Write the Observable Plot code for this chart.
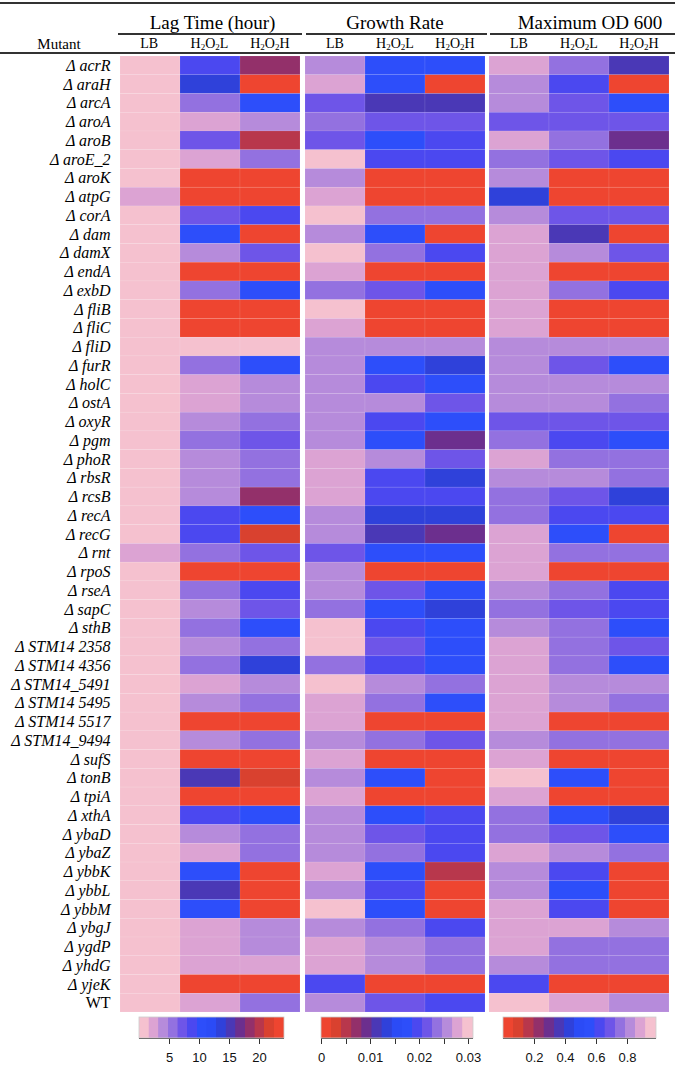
<!DOCTYPE html>
<html><head><meta charset="utf-8">
<script src="https://cdn.jsdelivr.net/npm/d3@7"></script>
<script src="https://cdn.jsdelivr.net/npm/@observablehq/plot@0.6"></script>
<style>
body{margin:0;background:#fff;width:675px;height:1069px;position:relative;overflow:hidden;font-family:"Liberation Serif","Times New Roman",serif;color:#000;}
.abs{position:absolute;}
.rule{position:absolute;background:#333;}
.ttl{position:absolute;text-align:center;font-size:19px;line-height:19px;white-space:nowrap;}
.sub{position:absolute;text-align:center;font-size:14px;line-height:14px;white-space:nowrap;}
.sub sub{font-size:9px;vertical-align:-2px;line-height:0;}
svg text{font-family:inherit;}
</style></head><body>
<script>
// ---------------- DATA ----------------
const mutants = ["Δ acrR","Δ araH","Δ arcA","Δ aroA","Δ aroB","Δ aroE_2","Δ aroK","Δ atpG","Δ corA","Δ dam","Δ damX","Δ endA","Δ exbD","Δ fliB","Δ fliC","Δ fliD","Δ furR","Δ holC","Δ ostA","Δ oxyR","Δ pgm","Δ phoR","Δ rbsR","Δ rcsB","Δ recA","Δ recG","Δ rnt","Δ rpoS","Δ rseA","Δ sapC","Δ sthB","Δ STM14 2358","Δ STM14 4356","Δ STM14_5491","Δ STM14 5495","Δ STM14 5517","Δ STM14_9494","Δ sufS","Δ tonB","Δ tpiA","Δ xthA","Δ ybaD","Δ ybaZ","Δ ybbK","Δ ybbL","Δ ybbM","Δ ybgJ","Δ ygdP","Δ yhdG","Δ yjeK","WT"];
const conditions = ["LB","H2O2L","H2O2H"];
const panelTitles = ["Lag Time (hour)","Growth Rate","Maximum OD 600"];

// Lag time (hours)
const lagLB = [0.8,0.8,0.8,0.8,0.8,0.8,0.8,2.4,0.8,0.8,0.8,0.8,0.8,0.8,0.8,0.8,0.8,0.8,0.8,0.8,0.8,0.8,0.8,0.8,0.8,0.8,2.4,0.8,0.8,0.8,0.8,0.8,0.8,0.8,0.8,0.8,0.8,0.8,0.8,0.8,0.8,0.8,0.8,0.8,0.8,0.8,0.8,0.8,0.8,0.8,0.8];
const lagL  = [8.9,13.7,5.6,2.4,7.3,2.4,23.4,23.4,7.3,10.5,4.0,23.4,5.6,23.4,23.4,0.8,5.6,2.4,2.4,4.0,5.6,4.0,4.0,4.0,8.9,8.9,5.6,23.4,5.6,4.0,5.6,4.0,5.6,2.4,4.0,23.4,4.0,23.4,15.3,23.4,8.9,4.0,2.4,10.5,15.3,10.5,2.4,2.4,2.4,23.4,2.4];
const lagH  = [18.5,23.4,10.5,4.0,20.2,5.6,23.4,23.4,8.9,23.4,7.3,23.4,10.5,23.4,23.4,0.8,10.5,4.0,4.0,5.6,7.3,5.6,5.6,18.5,10.5,21.8,7.3,23.4,8.9,7.3,10.5,5.6,13.7,4.0,5.6,23.4,5.6,23.4,21.8,23.4,10.5,5.6,5.6,23.4,23.4,23.4,4.0,4.0,2.4,23.4,5.6];

// Growth rate
const grLB = [0.0258,0.0279,0.0217,0.0238,0.0217,0.0300,0.0258,0.0279,0.0300,0.0258,0.0300,0.0279,0.0238,0.0300,0.0279,0.0258,0.0258,0.0258,0.0258,0.0258,0.0258,0.0279,0.0279,0.0279,0.0258,0.0258,0.0217,0.0258,0.0258,0.0238,0.0300,0.0300,0.0238,0.0300,0.0279,0.0279,0.0258,0.0279,0.0258,0.0279,0.0258,0.0258,0.0258,0.0279,0.0258,0.0300,0.0258,0.0279,0.0279,0.0196,0.0258];
const grL  = [0.0176,0.0176,0.0114,0.0217,0.0176,0.0196,0.0010,0.0010,0.0238,0.0176,0.0238,0.0010,0.0217,0.0010,0.0010,0.0258,0.0176,0.0196,0.0258,0.0196,0.0176,0.0258,0.0196,0.0196,0.0134,0.0114,0.0176,0.0010,0.0217,0.0176,0.0196,0.0217,0.0196,0.0258,0.0238,0.0010,0.0238,0.0010,0.0176,0.0010,0.0176,0.0217,0.0238,0.0176,0.0196,0.0176,0.0238,0.0258,0.0258,0.0010,0.0217];
const grH  = [0.0176,0.0010,0.0114,0.0217,0.0196,0.0196,0.0010,0.0010,0.0238,0.0010,0.0196,0.0010,0.0176,0.0010,0.0010,0.0258,0.0134,0.0176,0.0217,0.0176,0.0093,0.0217,0.0134,0.0196,0.0134,0.0093,0.0176,0.0010,0.0176,0.0134,0.0176,0.0176,0.0176,0.0238,0.0176,0.0010,0.0217,0.0010,0.0010,0.0010,0.0196,0.0196,0.0196,0.0052,0.0010,0.0010,0.0196,0.0238,0.0238,0.0010,0.0196];

// Maximum OD 600
const odLB = [0.89,0.83,0.83,0.69,0.89,0.76,0.83,0.43,0.83,0.89,0.89,0.89,0.89,0.89,0.89,0.83,0.83,0.83,0.83,0.69,0.76,0.89,0.83,0.76,0.76,0.89,0.89,0.89,0.83,0.76,0.83,0.89,0.89,0.89,0.89,0.89,0.83,0.89,0.96,0.89,0.76,0.76,0.89,0.83,0.83,0.89,0.89,0.89,0.83,0.63,0.96];
const odL  = [0.76,0.63,0.69,0.69,0.76,0.69,0.03,0.03,0.69,0.36,0.83,0.03,0.76,0.03,0.03,0.83,0.69,0.83,0.83,0.69,0.63,0.76,0.83,0.69,0.63,0.56,0.76,0.03,0.76,0.69,0.76,0.76,0.76,0.83,0.83,0.03,0.76,0.03,0.56,0.03,0.56,0.69,0.83,0.63,0.56,0.63,0.89,0.76,0.76,0.03,0.89];
const odH  = [0.36,0.03,0.56,0.69,0.30,0.63,0.03,0.03,0.69,0.03,0.69,0.03,0.63,0.03,0.03,0.83,0.56,0.83,0.76,0.69,0.56,0.76,0.76,0.43,0.63,0.03,0.76,0.03,0.63,0.63,0.56,0.69,0.56,0.83,0.76,0.03,0.76,0.03,0.03,0.03,0.43,0.56,0.76,0.03,0.03,0.03,0.83,0.76,0.76,0.03,0.83];

// legend ticks
const lagTicks = [5,10,15,20];
const grTicks = [0,0.005,0.01,0.015,0.02,0.025,0.03];
const grLabelled = [0,0.01,0.02,0.03];
const odTicks = [0.2,0.4,0.6,0.8];

// palette (low lag -> high lag)
const palette = ["#f5c1cf","#dca3d3","#b68bdb","#9371e0","#6e55e8","#4b48f0","#2d4efa","#2b4bf6","#2f41da","#4a38b6","#6c2f8e","#93306a","#b8374c","#d9412f","#ee4530"];
const paletteRev = palette.slice().reverse();

// ---------------- BUILD ----------------
function table(cols){
  const out=[];
  mutants.forEach((m,i)=>conditions.forEach((c,j)=>out.push({mutant:m,cond:c,value:cols[j][i]})));
  return out;
}
const step = pal => (t => pal[Math.max(0, Math.min(pal.length-1, Math.floor(t*pal.length)))]);

const panels = [
  {title:panelTitles[0], data:table([lagLB,lagL,lagH]), color:{type:"linear",domain:[0,24.2],interpolate:step(palette)}, left:0, width:300, mL:119, ticks:lagTicks, fmt:d=>String(d), legLeft:139, legW:145, tOff:3},
  {title:panelTitles[1], data:table([grLB,grL,grH]), color:{type:"linear",domain:[0,0.031],interpolate:step(paletteRev)}, left:305, width:180, mL:0, ticks:grTicks, fmt:d=>grLabelled.some(v=>Math.abs(v-d)<1e-9)? (d===0?"0":d3.format(".2f")(d)) : "", legLeft:321, legW:152, tOff:0},
  {title:panelTitles[2], data:table([odLB,odL,odH]), color:{type:"linear",domain:[0,0.99],interpolate:step(paletteRev)}, left:489, width:180, mL:0, ticks:odTicks, fmt:d=>d3.format(".1f")(d), legLeft:503, legW:153, tOff:11}
];

const body = document.body;
function div(cls, css, html){const d=document.createElement("div");d.className=cls;Object.assign(d.style,css);if(html!==undefined)d.innerHTML=html;body.appendChild(d);return d;}

// header rules
div("rule",{left:"0px",top:"2px",width:"675px",height:"2px"});
div("rule",{left:"0px",top:"52px",width:"675px",height:"2px"});
const ruleSpans=[[118,302],[306,487],[490,675]];
const subHtml = ["LB","H<sub>2</sub>O<sub>2</sub>L","H<sub>2</sub>O<sub>2</sub>H"];
panels.forEach((p,k)=>{
  const x0 = p.left + p.mL, w = p.width - p.mL;
  div("ttl",{left:(x0+p.tOff)+"px",top:"13px",width:w+"px"},p.title);
  div("rule",{left:ruleSpans[k][0]+"px",top:"33px",width:(ruleSpans[k][1]-ruleSpans[k][0])+"px",height:"1.5px"});
  subHtml.forEach((s,j)=>{
    div("sub",{left:(x0 + j*w/3)+"px",top:"37px",width:(w/3)+"px"},s);
  });
});
div("sub",{left:"0px",top:"37px",width:"118px",fontSize:"15px",lineHeight:"15px"},"Mutant");

// heatmaps
panels.forEach((p,k)=>{
  const svg = Plot.plot({
    width:p.width, height:956,
    marginLeft:p.mL, marginRight:0, marginTop:0, marginBottom:0,
    style:{fontFamily:"Liberation Serif, serif",fontSize:"16px",background:"transparent",overflow:"visible"},
    x:{domain:conditions, axis:null, padding:0},
    y:{domain:mutants, padding:0, axis: k===0 ? "left" : null, label:null, tickSize:0, tickPadding:9},
    color:p.color,
    marks:[
      Plot.cell(p.data,{x:"cond",y:"mutant",fill:"value",stroke:"white",strokeOpacity:0.15,strokeWidth:0.6})
    ]
  });
  const holder = div("abs",{left:p.left+"px",top:"56px",width:p.width+"px",height:"956px"});
  holder.appendChild(svg);
  if(k===0){
    svg.querySelectorAll("text").forEach(t=>{
      if(t.textContent.startsWith("Δ")) t.style.fontStyle="italic";
      t.setAttribute("fill","#000");
    });
  }
});

// legends
panels.forEach((p,k)=>{
  const mL=12, mR=12, barH=21;
  const leg = Plot.legend({
    color:{...p.color, ticks:p.ticks, tickFormat:p.fmt, label:null},
    ticks:p.ticks, tickFormat:p.fmt, label:null,
    width:p.legW+mL+mR, height:barH+30, marginLeft:mL, marginRight:mR, marginTop:0, marginBottom:30, tickSize:6,
    style:{fontFamily:"Liberation Sans, Arial, sans-serif",fontSize:"13px",background:"transparent",overflow:"visible"}
  });
  const holder = div("abs",{left:(p.legLeft-mL)+"px",top:"1017px",width:(p.legW+mL+mR)+"px"});
  holder.appendChild(leg);
  const s = d3.select(leg.tagName.toLowerCase()==="svg"?leg:leg.querySelector("svg"));
  s.selectAll(".tick line").attr("y1",0).attr("y2",6).attr("stroke","#333");
  s.selectAll(".tick text").attr("y",15).attr("fill","#111");
  s.append("line").attr("x1",mL).attr("x2",mL+p.legW).attr("y1",barH+0.5).attr("y2",barH+0.5).attr("stroke","#333").attr("stroke-width",1.2);
  s.append("rect").attr("x",mL).attr("y",0).attr("width",p.legW).attr("height",barH).attr("fill","none").attr("stroke","#ccc").attr("stroke-width",0.8);
});
</script>
</body></html>
